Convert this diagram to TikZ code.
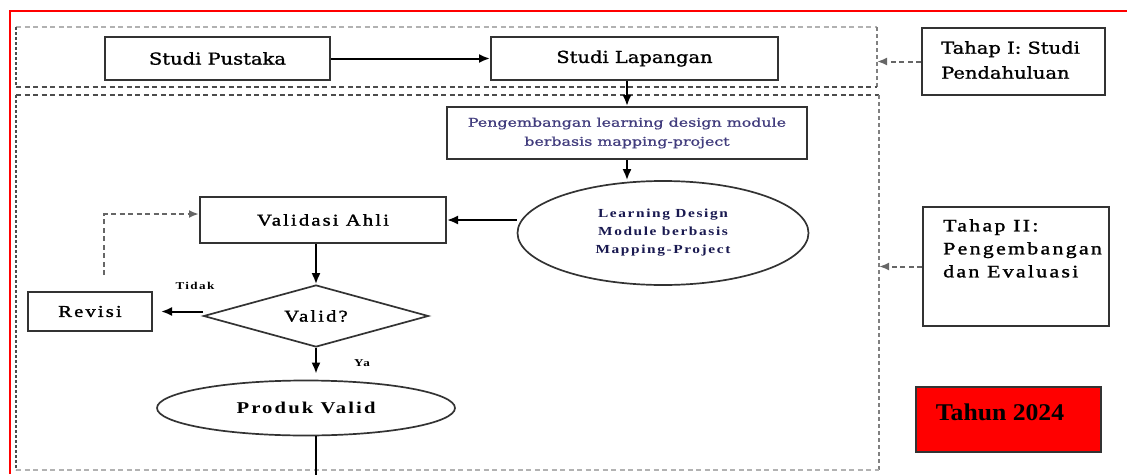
\documentclass[tikz,border=0pt]{standalone}
\usepackage{fontspec}
\setmainfont{Liberation Serif}
\newfontfamily\slab[FakeStretch=1.18,FakeBold=1.2]{DejaVu Serif}
\newfontfamily\slabw[FakeStretch=1.32,FakeBold=1]{DejaVu Serif}
\newfontfamily\tms[FakeStretch=1.25,LetterSpace=13,FakeBold=1.5]{Liberation Serif}
\newfontfamily\tmsb[FakeStretch=1.25,LetterSpace=13]{Liberation Serif Bold}
\newfontfamily\tmsn[FakeStretch=1.07]{Liberation Serif Bold}
\usetikzlibrary{arrows.meta,shapes.geometric}
\definecolor{boxline}{HTML}{333333}
\definecolor{pgtext}{RGB}{65,60,125}
\definecolor{ldtext}{RGB}{25,25,80}
\definecolor{frame}{RGB}{255,0,0}
\tikzset{
  stepbox/.style={draw=boxline, line width=2pt, rectangle, inner sep=0pt},
  ovalbox/.style={draw=boxline, line width=1.7pt, ellipse, inner sep=0pt},
  decbox/.style={draw=boxline, line width=1.7pt, diamond, inner sep=0pt, aspect=3.6},
  arr/.style={line width=2pt, draw=black, -{Latex[length=11pt,width=9pt]}},
  darr/.style={line width=2pt, draw=black!60, dash pattern=on 5pt off 3.5pt, -{Latex[length=10pt,width=8pt]}},
  dlight/.style={line width=1.6pt, draw=black!30, dash pattern=on 5pt off 3.5pt},
  dmed/.style={line width=1.6pt, draw=black!50, dash pattern=on 4pt off 3pt},
  ddark/.style={line width=1.6pt, draw=black!70, dash pattern=on 5pt off 3.5pt},
  slabtext/.style={font=\slab\fontsize{16.5}{25}\selectfont},
  tmstext/.style={font=\tms\fontsize{16.5}{23}\selectfont},
}
\begin{document}
\begin{tikzpicture}[x=1pt,y=-1pt]
\useasboundingbox (0,0) rectangle (1127,474);
% red frame
\draw[frame, line width=2pt] (10,474) -- (10,11) -- (1127,11);

% dashed stage boxes
\draw[dlight] (16,27) -- (877,27);
\draw[dmed] (877,27) -- (877,87);
\draw[ddark] (16,87) -- (877,87);
\draw[ddark, dash pattern=on 3pt off 2pt] (16,27) -- (16,87);
\draw[ddark] (16,95) -- (879,95);
\draw[dmed] (879,95) -- (879,470);
\draw[dlight, line width=2.2pt] (16,470) -- (879,470);
\draw[ddark, dash pattern=on 3pt off 2pt] (16,95) -- (16,470);

% nodes
\node[stepbox, minimum width=225pt, minimum height=43pt, slabtext] (sp) at (217.5,58.5) {Studi Pustaka};
\node[stepbox, minimum width=287pt, minimum height=43pt, slabtext] (sl) at (634.5,58.5) {Studi Lapangan};
\node[stepbox, minimum width=183pt, minimum height=67pt] (t1) at (1013.5,61.5) {};
\node[slabtext, anchor=north west, inner sep=0pt, align=left] (t1text) at (941,41) {Tahap I: Studi\\Pendahuluan};

\node[stepbox, minimum width=360pt, minimum height=52pt, text=pgtext, align=center,
      font=\slabw\fontsize{12}{19}\selectfont] (pg) at (627,133)
      {Pengembangan learning design module\\berbasis mapping-project};
\node[ovalbox, minimum width=291pt, minimum height=104pt, text=ldtext, align=center,
      font=\tmsb\fontsize{12.3}{18}\selectfont] (ld) at (663,233)
      {Learning Design\\Module berbasis\\Mapping-Project};

\node[stepbox, minimum width=246pt, minimum height=46pt, tmstext] (va) at (323,220) {Validasi Ahli};
\node[decbox, minimum width=225pt, minimum height=62pt, tmstext] (dv) at (316,316) {Valid?};
\node[stepbox, minimum width=124pt, minimum height=39pt, tmstext] (rv) at (90,311.5) {Revisi};
\node[ovalbox, minimum width=298pt, minimum height=55pt, font=\tmsb\fontsize{16.5}{20}\selectfont] (pv) at (306,408) {Produk Valid};

\node[font=\tmsb\fontsize{10.5}{12}\selectfont, inner sep=0pt] (tidak) at (195,286) {Tidak};
\node[font=\tmsb\fontsize{10.5}{12}\selectfont, inner sep=0pt] (ya) at (362,363) {Ya};

\node[stepbox, minimum width=186pt, minimum height=119pt] (t2) at (1016,266.5) {};
\node[font=\tms\fontsize{17.5}{23}\selectfont, anchor=north west, inner sep=0pt, align=left] (t2text) at (943,219) {Tahap II:\\Pengembangan\\dan Evaluasi};

\node[stepbox, fill=frame, minimum width=185pt, minimum height=65pt] (th) at (1008.5,419.5) {};
\node[font=\tmsn\fontsize{24}{28}\selectfont, inner sep=0pt] (thtext) at (1000,412) {Tahun 2024};

% coordinates
\coordinate (b1e) at (877,61.5);
\coordinate (b2e) at (879,266.5);
\coordinate (fb) at (104,275);
\coordinate (fbc) at (104,214);
\coordinate (bot) at (316,480);

% connectors
\draw[arr] (sp.east) -- (sl.west);
\draw[darr] (t1.west) -- (b1e);
\draw[arr] (sl.south -| pg.north) -- (pg.north);
\draw[arr] (pg.south) -- (pg.south |- ld.north);
\draw[arr] (va.east -| ld.west) -- (va.east);
\draw[arr] (va.south -| dv.north) -- (dv.north);
\draw[arr, shorten >=8pt] (dv.west |- rv.east) -- (rv.east);
\draw[arr, shorten >=6pt] (dv.south) -- (dv.south |- pv.north);
\draw[line width=2pt] (pv.south -| dv.south) -- (bot);
\draw[darr] (fb) -- (fbc) -- (fbc -| va.west);
\draw[darr] (t2.west) -- (b2e);
\end{tikzpicture}
\end{document}
